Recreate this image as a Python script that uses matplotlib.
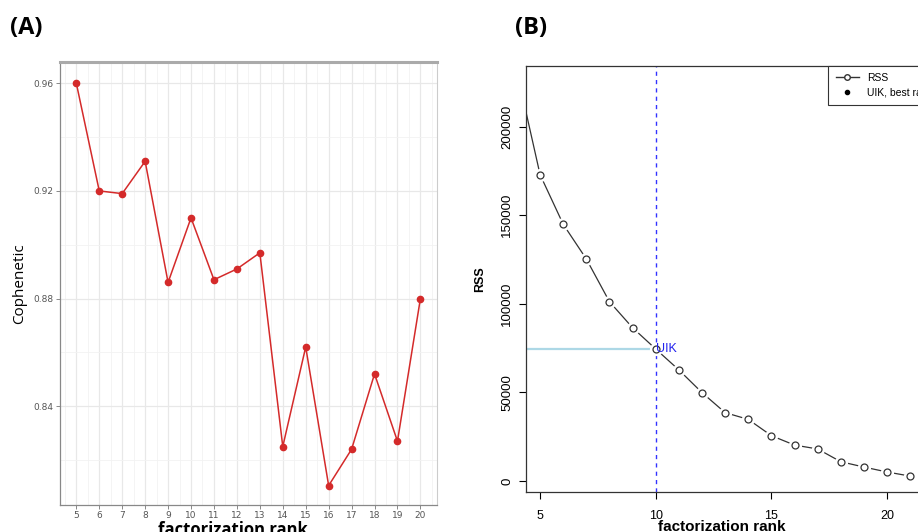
import matplotlib.pyplot as plt
from matplotlib.lines import Line2D

# panel A: cophenetic coefficient per rank
ranks_a = [5, 6, 7, 8, 9, 10, 11, 12, 13, 14, 15, 16, 17, 18, 19, 20]
cophenetic = [0.960, 0.920, 0.919, 0.931, 0.886, 0.910, 0.887, 0.891,
              0.897, 0.825, 0.862, 0.8105, 0.824, 0.852, 0.827, 0.880]

# panel B: RSS per rank
ranks_b = [4, 5, 6, 7, 8, 9, 10, 11, 12, 13, 14, 15, 16, 17, 18, 19, 20, 21]
rss = [231000, 172900, 144900, 125300, 101200, 86500, 74500, 62700, 49900,
       38600, 34800, 25600, 20300, 18100, 10900, 7900, 5100, 2800]
uik_rank = 10
uik_rss = 74500

fig = plt.figure(figsize=(9.18, 5.32), dpi=100)

# ======================
# PANEL A (ggplot-like)
# ======================
ax1 = fig.add_axes([0.0654, 0.0508, 0.4103, 0.8321])
ax1.set_xlim(4.29, 20.71)
ax1.set_ylim(0.8033, 0.9678)
ax1.set_xticks(ranks_a)
ax1.set_xticks([r + 0.5 for r in ranks_a[:-1]] + [4.5, 20.5], minor=True)
ax1.set_yticks([0.84, 0.88, 0.92, 0.96])
ax1.set_yticklabels(["0.84", "0.88", "0.92", "0.96"])
ax1.set_yticks([0.82, 0.86, 0.90, 0.94], minor=True)
ax1.grid(which="major", color="#e8e8e8", lw=0.9)
ax1.grid(which="minor", color="#f2f2f2", lw=0.6)
ax1.set_axisbelow(True)
ax1.plot(ranks_a, cophenetic, color="#d42a2a", lw=1.1, marker="o", ms=4.5)
for side in ["left", "bottom"]:
    ax1.spines[side].set_color("#888888")
    ax1.spines[side].set_linewidth(0.9)
ax1.spines["top"].set_color("#aaaaaa")
ax1.spines["top"].set_linewidth(2.2)
ax1.spines["right"].set_color("#cccccc")
ax1.spines["right"].set_linewidth(0.8)
ax1.tick_params(axis="both", which="major", labelsize=6.5, labelcolor="#555555",
                color="#888888", length=3, width=0.7, pad=2)
ax1.tick_params(axis="x", which="major", pad=1.5)
ax1.tick_params(axis="both", which="minor", length=0)
ax1.set_ylabel("Cophenetic", fontsize=11, family="Open Sans", labelpad=4)

fig.text(0.254, 1 - 521 / 532, "factorization rank", ha="center", va="top",
         fontsize=12, fontweight="bold", family="Open Sans")
fig.text(0.011, 0.947, "(A)", ha="left", va="center", fontsize=17,
         fontweight="bold", family="Open Sans")

# ======================
# PANEL B (base R-like)
# ======================
ax2 = fig.add_axes([0.5727, 0.0758, 0.4513, 0.8007])
ax2.set_xlim(4.38, 22.29)
ax2.set_ylim(-6000, 234400)

ax2.axvline(uik_rank, color="#3333ff", lw=1, ls=(0, (3, 3)))
ax2.plot([4.38, uik_rank], [uik_rss, uik_rss], color="#add8e6", lw=1.6)

ax2.plot(ranks_b, rss, color="#333333", lw=0.9)
ax2.plot(ranks_b, rss, ls="none", marker="o", ms=8.5, mfc="white", mec="white")
ax2.plot(ranks_b, rss, ls="none", marker="o", ms=5, mfc="white",
         mec="#333333", mew=0.9)
ax2.text(uik_rank, uik_rss, "UIK", color="#2222ee", fontsize=9,
         family="Liberation Sans", ha="left", va="center")

ax2.set_xticks([5, 10, 15, 20])
ax2.set_yticks([0, 50000, 100000, 150000, 200000])
ax2.tick_params(axis="x", labelsize=9, length=5, width=0.8, pad=8)
ax2.tick_params(axis="y", labelsize=9.5, length=5, width=0.8, pad=4)
for lab in ax2.get_yticklabels():
    lab.set_rotation(90)
    lab.set_va("center")
    lab.set_family("Liberation Sans")
for lab in ax2.get_xticklabels():
    lab.set_family("Liberation Sans")
for sp in ax2.spines.values():
    sp.set_color("#333333")
    sp.set_linewidth(0.9)
ax2.set_ylabel("RSS", fontsize=9, fontweight="bold", family="Liberation Sans",
               labelpad=11)

handles = [
    Line2D([], [], color="#333333", lw=1, marker="o", ms=4, mfc="white"),
    Line2D([], [], color="black", ls="none", marker="o", ms=3),
]
leg = ax2.legend(handles, ["RSS", "UIK, best rank"], loc="upper right",
                 borderaxespad=0, fancybox=False, edgecolor="#333333",
                 framealpha=1, handlelength=2.2, borderpad=0.7,
                 labelspacing=0.45,
                 prop={"family": "Liberation Sans", "size": 7.5})
leg.get_frame().set_linewidth(0.8)

fig.text(0.786, 1 - 520 / 532, "factorization rank", ha="center", va="top",
         fontsize=11, fontweight="bold", family="Liberation Sans")
fig.text(0.561, 0.947, "(B)", ha="left", va="center", fontsize=17,
         fontweight="bold", family="Open Sans")

fig.savefig("out.png", dpi=100)
